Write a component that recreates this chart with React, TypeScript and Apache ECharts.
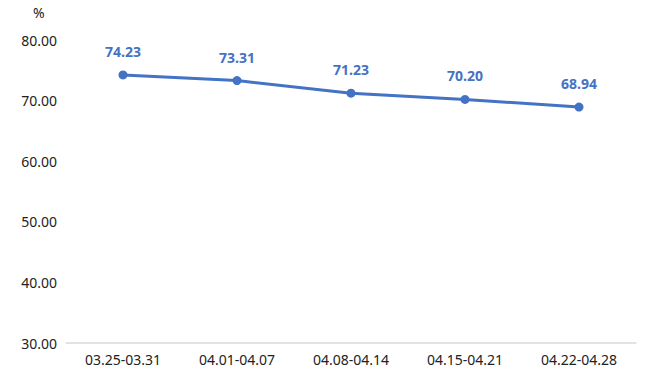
import React, { useEffect, useRef } from "react";
import * as echarts from "echarts";

const categories = ["03.25-03.31", "04.01-04.07", "04.08-04.14", "04.15-04.21", "04.22-04.28"];
const values = [74.23, 73.31, 71.23, 70.2, 68.94];
const yMin = 30;
const yMax = 80;
const yInterval = 10;
const unitLabel = "%";

export default function App() {
  const ref = useRef<HTMLDivElement>(null);
  useEffect(() => {
    if (!ref.current) return;
    const chart = echarts.init(ref.current, null, { renderer: "svg" });
    const font = "'Noto Sans', 'Open Sans', sans-serif";
    chart.setOption({
      animation: false,
      backgroundColor: "#ffffff",
      grid: { left: 66, right: 24, top: 40, bottom: 36 },
      graphic: [
        {
          type: "text",
          left: 33,
          top: 5,
          style: { text: unitLabel, font: `14px ${font}`, fill: "#222" },
        },
      ],
      xAxis: {
        type: "category",
        data: categories,
        axisLine: { lineStyle: { color: "#d9d9d9", width: 1.5 } },
        axisTick: { show: false },
        axisLabel: { color: "#222", fontSize: 14, fontFamily: font, margin: 9 },
      },
      yAxis: {
        type: "value",
        min: yMin,
        max: yMax,
        interval: yInterval,
        splitLine: { show: false },
        axisLine: { show: false },
        axisTick: { show: false },
        axisLabel: {
          color: "#222",
          fontSize: 14,
          fontFamily: font,
          margin: 9,
          formatter: (v: number) => v.toFixed(2),
        },
      },
      series: [
        {
          type: "line",
          data: values,
          symbol: "circle",
          symbolSize: 9,
          lineStyle: { color: "#4472C4", width: 3 },
          itemStyle: { color: "#4472C4" },
          label: {
            show: true,
            position: "top",
            distance: 12,
            color: "#4472C4",
            fontWeight: "bold",
            fontSize: 14,
            fontFamily: font,
            formatter: (p: any) => p.value.toFixed(2),
          },
        },
      ],
    });
    return () => chart.dispose();
  }, []);
  return <div ref={ref} style={{ width: 660, height: 379, position: "fixed", left: 0, top: 0 }} />;
}
